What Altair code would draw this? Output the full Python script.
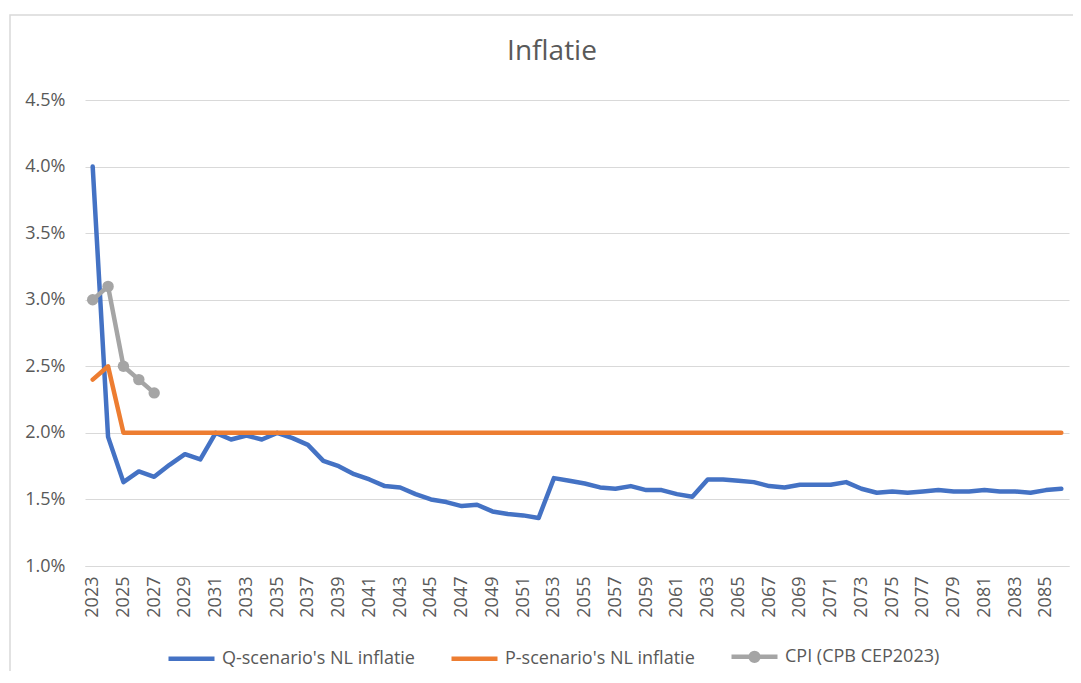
import altair as alt
import pandas as pd

years = list(range(2023, 2087))

q_values = [4.00, 1.97, 1.63, 1.71, 1.67, 1.76, 1.84, 1.80, 2.00, 1.95,
            1.98, 1.95, 2.00, 1.96, 1.91, 1.79, 1.75, 1.69, 1.65, 1.60,
            1.59, 1.54, 1.50, 1.48, 1.45, 1.46, 1.41, 1.39, 1.38, 1.36,
            1.66, 1.64, 1.62, 1.59, 1.58, 1.60, 1.57, 1.57, 1.54, 1.52,
            1.65, 1.65, 1.64, 1.63, 1.60, 1.59, 1.61, 1.61, 1.61, 1.63,
            1.58, 1.55, 1.56, 1.55, 1.56, 1.57, 1.56, 1.56, 1.57, 1.56,
            1.56, 1.55, 1.57, 1.58]

p_values = [2.4, 2.5, 2.0, 2.0, 2.0, 2.0, 2.0, 2.0, 2.0, 2.0,
            2.0, 2.0, 2.0, 2.0, 2.0, 2.0, 2.0, 2.0, 2.0, 2.0,
            2.0, 2.0, 2.0, 2.0, 2.0, 2.0, 2.0, 2.0, 2.0, 2.0,
            2.0, 2.0, 2.0, 2.0, 2.0, 2.0, 2.0, 2.0, 2.0, 2.0,
            2.0, 2.0, 2.0, 2.0, 2.0, 2.0, 2.0, 2.0, 2.0, 2.0,
            2.0, 2.0, 2.0, 2.0, 2.0, 2.0, 2.0, 2.0, 2.0, 2.0,
            2.0, 2.0, 2.0, 2.0]

cpi_years = [2023, 2024, 2025, 2026, 2027]
cpi_values = [3.0, 3.1, 2.5, 2.4, 2.3]

series_names = ["Q-scenario's NL inflatie", "P-scenario's NL inflatie", "CPI (CPB CEP2023)"]
series_colors = ["#4472C4", "#ED7D31", "#A5A5A5"]

y_ticks = [1.0, 1.5, 2.0, 2.5, 3.0, 3.5, 4.0, 4.5]
x_ticks = list(range(2023, 2086, 2))

FONT = "Open Sans"
TEXT = "#595959"
GRID = "#D9D9D9"

rows = []
for y, v in zip(years, q_values):
    rows.append({"year": y, "value": v, "series": series_names[0]})
for y, v in zip(years, p_values):
    rows.append({"year": y, "value": v, "series": series_names[1]})
for y, v in zip(cpi_years, cpi_values):
    rows.append({"year": y, "value": v, "series": series_names[2]})
df = pd.DataFrame(rows)

# rows used only to produce the legend (no valid position -> nothing drawn)
legend_df = pd.DataFrame({"series": series_names, "year": [None] * 3, "value": [None] * 3})

line_path = "M-1,0L1,0"
dot_path = ("M-1,0L1,0"
            "M0.17,0A0.17,0.17,0,1,1,-0.17,0A0.17,0.17,0,1,1,0.17,0"
            "M0.08,0A0.08,0.08,0,1,1,-0.08,0A0.08,0.08,0,1,1,0.08,0")

x_enc = alt.X("year:Q",
              scale=alt.Scale(domain=[2022.5, 2086.5], nice=False, zero=False),
              axis=alt.Axis(values=x_ticks, format="d", title=None))
y_enc = alt.Y("value:Q",
              scale=alt.Scale(domain=[1.0, 4.5], nice=False, zero=False),
              axis=alt.Axis(values=y_ticks, labelExpr="format(datum.value, '.1f') + '%'",
                            title=None))
color_scale = alt.Scale(domain=series_names, range=series_colors)
leg = dict(title=None, orient="none", legendX=81, legendY=531, direction="horizontal",
           labelLimit=400)
color_enc = alt.Color("series:N", scale=color_scale, legend=alt.Legend(**leg))

lines = []
for name in series_names:
    lines.append(
        alt.Chart(df).transform_filter(alt.datum.series == name)
        .mark_line(strokeWidth=4.5, strokeCap="round", strokeJoin="round")
        .encode(x=x_enc, y=y_enc, color=color_enc)
    )

points = (alt.Chart(df).transform_filter(alt.datum.series == series_names[2])
          .mark_circle(size=130, opacity=1)
          .encode(x=x_enc, y=y_enc, color=color_enc))

legend_layer = (alt.Chart(legend_df)
                .mark_point(filled=False, strokeWidth=4.5)
                .encode(x=x_enc, y=y_enc, color=color_enc,
                        shape=alt.Shape("series:N",
                                        scale=alt.Scale(domain=series_names,
                                                        range=[line_path, line_path, dot_path]),
                                        legend=alt.Legend(**leg))))

border = alt.Chart(pd.DataFrame({"a": [0]})).mark_rect(
    fill=None, stroke=GRID, strokeWidth=1.5, clip=False
).encode(x=alt.value(-75), x2=alt.value(1100), y=alt.value(-85), y2=alt.value(700))

chart = alt.layer(border, legend_layer, *lines, points).properties(
    width=984, height=466,
    background="white",
    padding={"left": 77, "top": 92, "right": 4, "bottom": 105},
    autosize=alt.AutoSizeParams(type="none"),
    title=alt.TitleParams("Inflatie", font=FONT, fontSize=28, fontWeight="normal",
                          color=TEXT, anchor="middle", frame="group", dx=-25, offset=-52),
).configure_view(stroke=None).configure_axis(
    labelFont=FONT, labelFontSize=18, labelColor=TEXT, ticks=False, labelOverlap=False,
    labelFlush=False, titleFont=FONT,
).configure_axisX(
    labelAngle=-90, labelAlign="right", labelBaseline="middle", labelPadding=10,
    grid=False, domain=True, domainColor=GRID, domainWidth=1,
).configure_axisY(
    domain=False, grid=True, gridColor=GRID, gridWidth=1, labelPadding=20,
).configure_legend(
    symbolSize=2116, symbolStrokeWidth=4.5, labelFont=FONT, labelFontSize=18,
    labelColor=TEXT, labelOffset=5, columnPadding=27, symbolOpacity=1, labelLimit=400,
)

chart.save("out.html", embed_options={"renderer": "svg", "actions": False})
